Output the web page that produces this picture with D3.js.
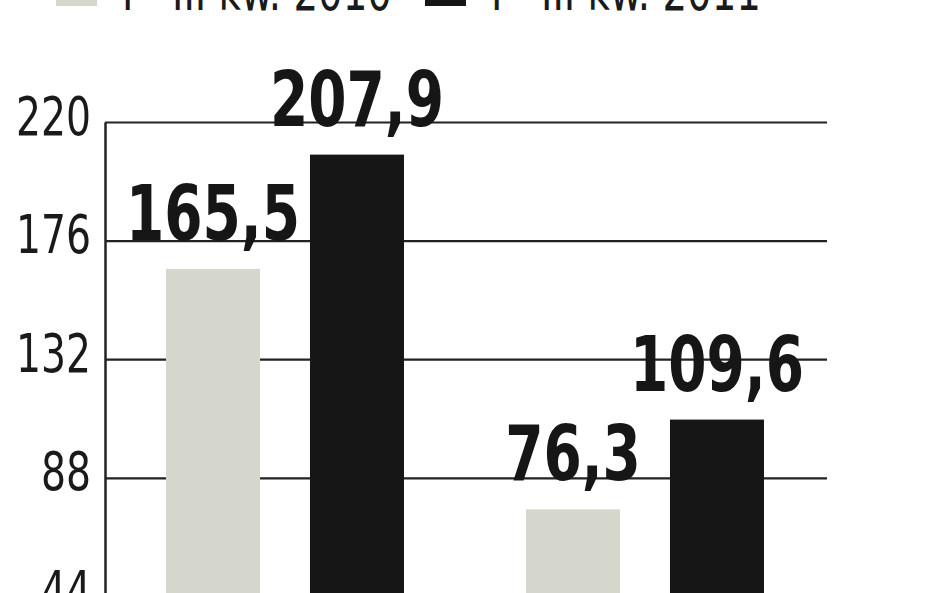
<!DOCTYPE html>
<html lang="pl">
<head>
<meta charset="utf-8">
<title>I - III kw. 2010 / 2011</title>
<script src="https://cdn.jsdelivr.net/npm/d3@7"></script>
<style>
  body { margin: 0; background: #fff; }
  svg { display: block; }
  .tick text, .legend text { font-family: "DejaVu Sans Condensed", "DejaVu Sans", sans-serif; font-weight: 300; font-size: 53px; fill: #1a1a1a; }
  .value { font-family: "DejaVu Sans Condensed", "DejaVu Sans", sans-serif; font-weight: bold; font-size: 77px; fill: #161616; }
</style>
</head>
<body>
<svg id="chart" width="948" height="593"></svg>
<script>
// Data
var categories = ["grupa 1", "grupa 2"];
var seriesNames = ["I - III kw. 2010", "I - III kw. 2011"];
var values2010 = [165.5, 76.3];
var values2011 = [207.9, 109.6];
var tickValues = [44, 88, 132, 176, 220];
var seriesColors = ["#d6d7cc", "#161616"];

var svg = d3.select("#chart");

var x0 = d3.scaleBand().domain(categories).range([105, 825])
  .paddingInner(0.339).paddingOuter(0.1695);
var x1 = d3.scaleBand().domain(seriesNames).range([0, x0.bandwidth()])
  .paddingInner(0.347).paddingOuter(0);
var y = d3.scaleLinear().domain([0, 220]).range([715, 122]);
var color = d3.scaleOrdinal().domain(seriesNames).range(seriesColors);

// rows for the grouped bars
var rows = [];
categories.forEach(function(c, i) {
  rows.push({ cat: c, s: seriesNames[0], v: values2010[i] });
  rows.push({ cat: c, s: seriesNames[1], v: values2011[i] });
});

// y axis with gridlines
var axis = svg.append("g")
  .attr("transform", "translate(105,0)")
  .call(d3.axisLeft(y).tickValues(tickValues).tickSize(-722).tickSizeOuter(0)
    .tickFormat(function(d) { return d; }));
axis.attr("font-family", null).attr("font-size", null);
axis.select(".domain").attr("stroke", "#222").attr("stroke-width", 2.5);
axis.selectAll(".tick line").attr("stroke", "#222").attr("stroke-width", 2.2);
// narrow digits, about 25px each
axis.selectAll(".tick text")
  .attr("x", -14).attr("dy", 12)
  .attr("text-anchor", "end")
  .attr("textLength", function(d) { return String(d).length * 25; })
  .attr("lengthAdjust", "spacingAndGlyphs");

// bars
svg.append("g").selectAll("rect")
  .data(rows)
  .enter()
  .append("rect")
  .attr("x", function(d) { return x0(d.cat) + x1(d.s); })
  .attr("y", function(d) { return y(d.v); })
  .attr("width", x1.bandwidth())
  .attr("height", function(d) { return y(0) - y(d.v); })
  .attr("fill", function(d) { return color(d.s); });

// value labels
var fmt = function(v) { return v.toFixed(1).replace(".", ","); };
var labels = svg.append("g").selectAll("text")
  .data(rows)
  .enter()
  .append("text")
  .attr("class", "value")
  .attr("text-anchor", "middle")
  .text(function(d) { return fmt(d.v); });

// squeeze the bold font to the narrow width seen in the picture
var natural = labels.filter(function(d) { return d.v === values2010[0]; }).node().getComputedTextLength();
var sx = 174 / natural;
labels.attr("transform", function(d) {
  var cx = x0(d.cat) + x1(d.s) + x1.bandwidth() / 2;
  return "translate(" + cx + "," + (y(d.v) - 29) + ") scale(" + sx + ",1)";
});

// legend (cut off at the top of the picture)
var legend = svg.append("g").attr("class", "legend");
var legendX = [56, 425];
seriesNames.forEach(function(name, i) {
  legend.append("rect")
    .attr("x", legendX[i]).attr("y", -35)
    .attr("width", 41).attr("height", 41)
    .attr("fill", color(name));
  legend.append("text")
    .attr("x", legendX[i] + 66).attr("y", 10)
    .attr("textLength", 270)
    .attr("lengthAdjust", "spacingAndGlyphs")
    .text(name);
});
</script>
</body>
</html>
